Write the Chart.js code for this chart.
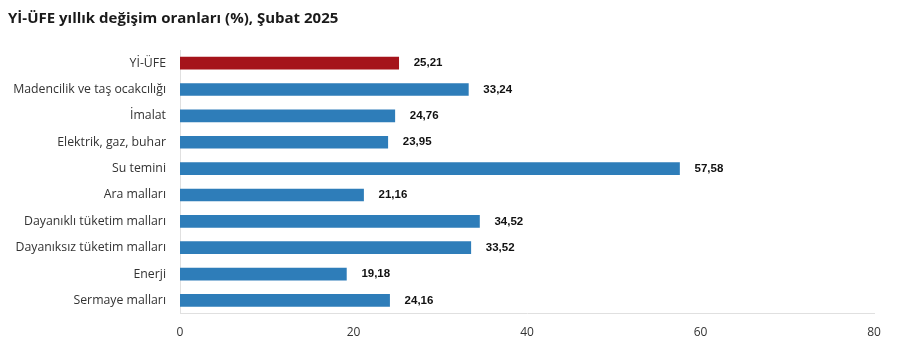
<!DOCTYPE html>
<html>
<head>
<meta charset="utf-8">
<script src="https://cdn.jsdelivr.net/npm/chart.js@4"></script>
<style>
  html, body { margin: 0; padding: 0; background: #fff; }
  #wrap { width: 916px; height: 358px; position: relative; }
</style>
</head>
<body>
<div id="wrap"><canvas id="chart"></canvas></div>
<script>
var categories = [
    "Yİ-ÜFE",
    "Madencilik ve taş ocakcılığı",
    "İmalat",
    "Elektrik, gaz, buhar",
    "Su temini",
    "Ara malları",
    "Dayanıklı tüketim malları",
    "Dayanıksız tüketim malları",
    "Enerji",
    "Sermaye malları"
];
var values = [25.21, 33.24, 24.76, 23.95, 57.58, 21.16, 34.52, 33.52, 19.18, 24.16];
var xTicks = [0, 20, 40, 60, 80];

var barColors = categories.map(function (c, i) {
    return i === 0 ? "#A5131B" : "#2E7DB9";
});

// value labels to the right of each bar
var valueLabels = {
    id: 'valueLabels',
    afterDatasetsDraw: function (chart) {
        var ctx = chart.ctx;
        var meta = chart.getDatasetMeta(0);
        ctx.save();
        ctx.font = "bold 11.5px 'Liberation Sans', Arial, sans-serif";
        ctx.fillStyle = "#111";
        ctx.textBaseline = "middle";
        ctx.textAlign = "left";
        meta.data.forEach(function (bar, i) {
            ctx.fillText(values[i].toFixed(2).replace(".", ","), bar.x + 15, bar.y);
        });
        ctx.restore();
    }
};

new Chart(document.getElementById("chart"), {
    type: "bar",
    data: {
        labels: categories,
        datasets: [{
            data: values,
            backgroundColor: barColors,
            barThickness: 12
        }]
    },
    options: {
        indexAxis: "y",
        responsive: true,
        maintainAspectRatio: false,
        animation: false,
        layout: { padding: { left: 8, right: 42, top: 0, bottom: 6 } },
        plugins: {
            legend: { display: false },
            tooltip: { enabled: false },
            title: {
                display: true,
                text: "Yİ-ÜFE yıllık değişim oranları (%), Şubat 2025",
                align: "start",
                color: "#1a1a1a",
                font: { family: "'Open Sans', 'Noto Sans', sans-serif", size: 15, weight: "bold" },
                padding: { top: 10, bottom: 22 }
            }
        },
        scales: {
            x: {
                min: 0,
                max: 80,
                afterBuildTicks: function (axis) {
                    axis.ticks = xTicks.map(function (v) { return { value: v }; });
                },
                grid: { display: false, drawTicks: false },
                border: { display: true, color: "#e0e0e0" },
                ticks: {
                    color: "#333",
                    padding: 12,
                    font: { family: "'Open Sans', 'Noto Sans', sans-serif", size: 12 }
                }
            },
            y: {
                afterFit: function (axis) { axis.width = 172; },
                grid: { display: false, drawTicks: false },
                border: { display: true, color: "#e0e0e0" },
                ticks: {
                    color: "#333",
                    padding: 14,
                    font: { family: "'Open Sans', 'Noto Sans', sans-serif", size: 12.3 }
                }
            }
        }
    },
    plugins: [valueLabels]
});
</script>
</body>
</html>
